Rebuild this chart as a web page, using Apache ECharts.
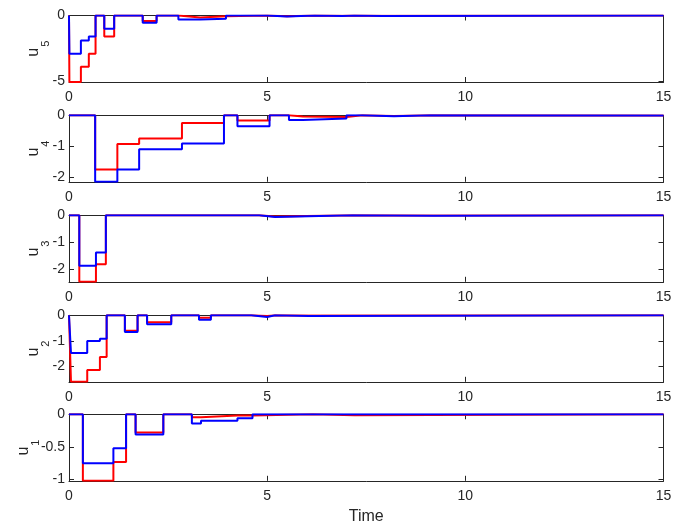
<!DOCTYPE html>
<html>
<head>
<meta charset="utf-8">
<script src="https://cdn.jsdelivr.net/npm/echarts@6/dist/echarts.min.js"></script>
<style>html,body{margin:0;padding:0;background:#fff}#c{width:673px;height:525px}</style>
</head>
<body>
<div id="c"></div>
<script>
// Panel u5
const t5 = [0, 0.01, 0.3, 0.5, 0.67, 0.89, 1.14, 1.86, 2.21, 2.76, 3.31, 3.96, 5.0, 5.5, 6.2, 6.9, 7.2, 7.9, 15];
const blue5 = [0, -2.9, -1.9, -1.6, 0, -1.0, 0, -0.55, 0, -0.3, -0.25, 0, -0.08, 0, -0.04, 0, -0.03, 0, 0];
const red5  = [0, -5.05, -3.9, -2.9, 0, -1.6, 0, -0.42, 0, -0.15, -0.05, 0, -0.05, 0, -0.02, 0, -0.01, 0, 0];
// Panel u4
const t4 = [0, 0.66, 1.22, 1.77, 2.85, 3.91, 4.25, 5.06, 5.55, 5.9, 7.0, 7.4, 8.2, 9.1, 15];
const blue4 = [0, -2.15, -1.75, -1.1, -0.91, 0, -0.35, 0, -0.15, -0.1, 0, -0.03, 0, -0.01, -0.01];
const red4  = [0, -1.75, -0.93, -0.75, -0.25, 0, -0.17, 0, -0.04, -0.055, 0, -0.02, 0, -0.01, -0.01];
// Panel u3
const t3 = [0, 0.26, 0.68, 0.93, 4.8, 5.2, 7.15, 9.2, 15];
const blue3 = [0, -1.86, -1.37, 0, -0.06, 0, -0.02, 0, 0];
const red3  = [0, -2.45, -1.8, 0, -0.04, 0, -0.01, 0, 0];
// Panel u2
const t2 = [0, 0.05, 0.46, 0.78, 0.95, 1.41, 1.73, 1.97, 2.58, 3.28, 3.58, 4.6, 5.0, 5.2, 6.05, 15];
const blue2 = [0, -1.47, -1.0, -0.92, 0, -0.65, 0, -0.35, 0, -0.17, 0, -0.07, 0, -0.03, 0, 0];
const red2  = [0, -2.6, -2.14, -1.63, 0, -0.6, 0, -0.27, 0, -0.1, 0, -0.03, 0, -0.01, 0, 0];
// Panel u1
const t1 = [0, 0.35, 1.12, 1.44, 1.68, 2.38, 3.1, 3.33, 4.25, 4.63, 6.15, 7.2, 15];
const blue1 = [0, -0.75, -0.52, 0, -0.31, 0, -0.14, -0.1, -0.06, 0, 0, 0, 0];
const red1  = [0, -1.02, -0.73, 0, -0.28, 0, -0.046, -0.02, -0.02, 0, -0.015, 0, 0];

const xTicks = [0, 5, 10, 15];
const yTicks5 = [0, -5];
const yTicks4 = [0, -1, -2];
const yTicks3 = [0, -1, -2];
const yTicks2 = [0, -1, -2];
const yTicks1 = [0, -0.5, -1];
const yMins = [-5.05, -2.15, -2.45, -2.6, -1.02];
const subs = ['5', '4', '3', '2', '1'];

const panels = [
  {t: t5, b: blue5, r: red5, ticks: yTicks5},
  {t: t4, b: blue4, r: red4, ticks: yTicks4},
  {t: t3, b: blue3, r: red3, ticks: yTicks3},
  {t: t2, b: blue2, r: red2, ticks: yTicks2},
  {t: t1, b: blue1, r: red1, ticks: yTicks1}
];

const tops = [15.5, 115.3, 215.3, 315.3, 414.3];
const nameGaps = [18, 18, 18, 18, 28];
const AX = '#262626';
const FONT = 'Liberation Sans';

const grid = [], xAxis = [], yAxis = [], series = [];
panels.forEach((p, i) => {
  grid.push({left: 69, right: 9.5, top: tops[i], height: 66.5, containLabel: false, outerBoundsMode: 'none'});
  const common = {
    type: 'value', gridIndex: i, min: 0, max: 15, interval: 5,
    axisLine: {show: true, onZero: false, lineStyle: {color: AX, width: 1}},
    axisTick: {show: true, inside: true, length: 5, customValues: xTicks, lineStyle: {color: AX}},
    splitLine: {show: false}
  };
  xAxis.push(Object.assign({}, common, {
    position: 'bottom',
    axisLabel: {show: true, fontSize: 14, color: AX, fontFamily: FONT, margin: 8, customValues: xTicks},
    name: i === 4 ? 'Time' : '',
    nameLocation: 'middle', nameGap: 28, nameMoveOverlap: false,
    nameTextStyle: {fontSize: 16, color: AX, fontFamily: FONT}
  }));
  xAxis.push(Object.assign({}, common, {position: 'top', axisLabel: {show: false}}));
  const ycommon = {
    type: 'value', gridIndex: i, min: yMins[i], max: 0,
    axisLine: {show: true, onZero: false, lineStyle: {color: AX, width: 1}},
    axisTick: {show: true, inside: true, length: 5, customValues: p.ticks, lineStyle: {color: AX}},
    splitLine: {show: false}
  };
  yAxis.push(Object.assign({}, ycommon, {
    position: 'left',
    axisLabel: {show: true, fontSize: 14, color: AX, fontFamily: FONT, margin: 4, customValues: p.ticks},
    name: '{u|u}{s|' + subs[i] + '}',
    nameLocation: 'middle', nameRotate: 90, nameGap: nameGaps[i], nameMoveOverlap: false,
    nameTextStyle: {
      color: AX, fontFamily: FONT,
      rich: {
        u: {fontSize: 16, color: AX, fontFamily: FONT, verticalAlign: 'bottom', padding: [0, 0, 9, 0]},
        s: {fontSize: 11, color: AX, fontFamily: FONT, verticalAlign: 'bottom', padding: [0, 0, 0, 1]}
      }
    }
  }));
  yAxis.push(Object.assign({}, ycommon, {position: 'right', axisLabel: {show: false}}));
  const xi = i * 2, yi = i * 2;
  series.push({
    type: 'line', xAxisIndex: xi, yAxisIndex: yi, step: 'end', symbol: 'none',
    lineStyle: {color: '#ff0000', width: 2}, z: 2, animation: false,
    data: p.t.map((t, k) => [t, p.r[k]])
  });
  series.push({
    type: 'line', xAxisIndex: xi, yAxisIndex: yi, step: 'end', symbol: 'none',
    lineStyle: {color: '#0000ff', width: 2}, z: 3, animation: false,
    data: p.t.map((t, k) => [t, p.b[k]])
  });
});

const chart = echarts.init(document.getElementById('c'), null, {renderer: 'canvas'});
chart.setOption({animation: false, backgroundColor: '#ffffff', grid, xAxis, yAxis, series});
</script>
</body>
</html>
